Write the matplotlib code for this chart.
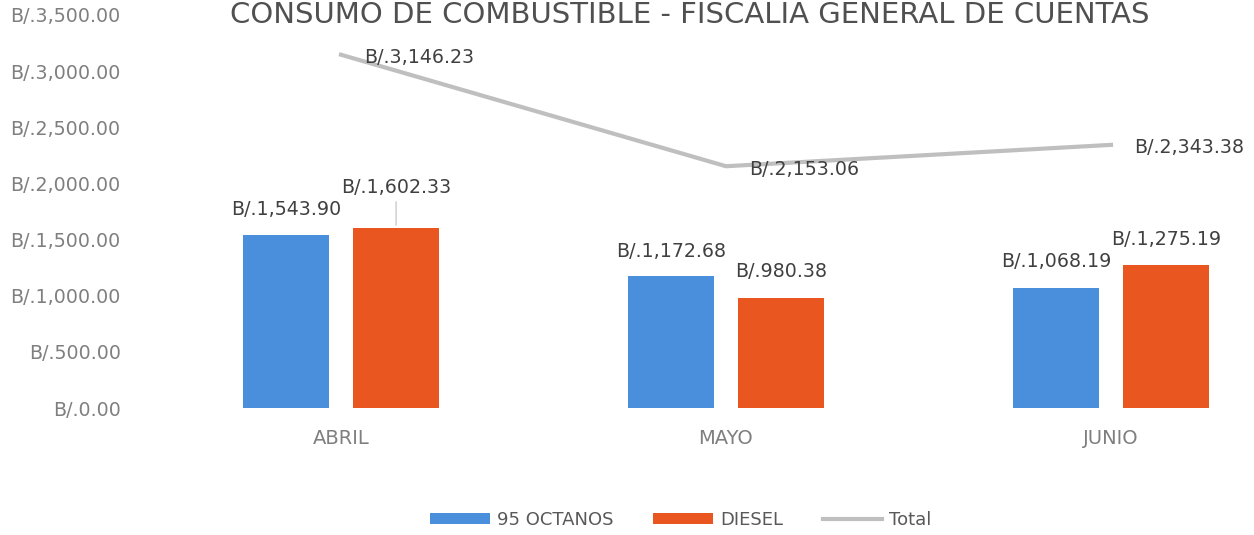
import numpy as np
import matplotlib.pyplot as plt
from matplotlib.ticker import FuncFormatter

# Datos
meses = ["ABRIL", "MAYO", "JUNIO"]
octanos_95 = [1543.90, 1172.68, 1068.19]
diesel = [1602.33, 980.38, 1275.19]
total = [3146.23, 2153.06, 2343.38]

def fmt_bal(v, pos=None):
    return "B/." + format(v, ",.2f")

plt.rcParams['font.family'] = ['DejaVu Sans']

fig = plt.figure(figsize=(12.54, 5.35), dpi=100)
ax = fig.add_axes([148.5 / 1254, 127 / 535, 1155 / 1254, 393 / 535])

x = np.arange(len(meses))
w = 0.223
off = 0.143
b1 = ax.bar(x - off, octanos_95, w, color='#4A8FDC', label='95 OCTANOS')
b2 = ax.bar(x + off, diesel, w, color='#E9561F', label='DIESEL')
ln, = ax.plot(x, total, color='#BFBFBF', lw=3, label='Total')

ax.set_xlim(-0.5, 2.5)
ax.set_ylim(0, 3500)
ax.set_yticks(np.arange(0, 3501, 500))
ax.yaxis.set_major_formatter(FuncFormatter(fmt_bal))
ax.set_xticks(x)
ax.set_xticklabels(meses)
ax.tick_params(axis='both', length=0, colors='#7F7F7F')
ax.tick_params(axis='y', pad=20, labelsize=13.7)
ax.tick_params(axis='x', pad=15, labelsize=14)
for s in ax.spines.values():
    s.set_visible(False)

lab_col = '#404040'
# etiquetas de barras, distancia en puntos sobre la barra
dy_95 = [18, 18, 19]
dy_di = [29.5, 19, 18]
for i in range(len(meses)):
    ax.annotate(fmt_bal(octanos_95[i]), (x[i] - off, octanos_95[i]), xytext=(0, dy_95[i]),
                textcoords='offset points', ha='center', va='center', fontsize=13.7, color=lab_col)
    ax.annotate(fmt_bal(diesel[i]), (x[i] + off, diesel[i]), xytext=(0, dy_di[i]),
                textcoords='offset points', ha='center', va='center', fontsize=13.7, color=lab_col)
# linea guia de la etiqueta DIESEL de abril
ax.annotate('', (x[0] + off, diesel[0]), xytext=(0, 21), textcoords='offset points',
            arrowprops=dict(arrowstyle='-', color='#BFBFBF', lw=0.8))

for i in range(len(meses)):
    ax.annotate(fmt_bal(total[i]), (x[i], total[i]), xytext=(17, -2),
                textcoords='offset points', ha='left', va='center', fontsize=13.7, color=lab_col)

fig.text(0.55, 1 - 1 / 535, "CONSUMO DE COMBUSTIBLE - FISCALIA GENERAL DE CUENTAS",
         ha='center', va='top', fontsize=21, color='#505050')

leg = fig.legend(handles=[b1, b2, ln], loc='center', bbox_to_anchor=(0.543, 1 - 520 / 535),
                 ncol=3, frameon=False, fontsize=13, handlelength=3.3, handleheight=0.5,
                 columnspacing=2.2, handletextpad=0.4)
for t in leg.get_texts():
    t.set_color('#595959')

fig.savefig('out.png', dpi=100)
